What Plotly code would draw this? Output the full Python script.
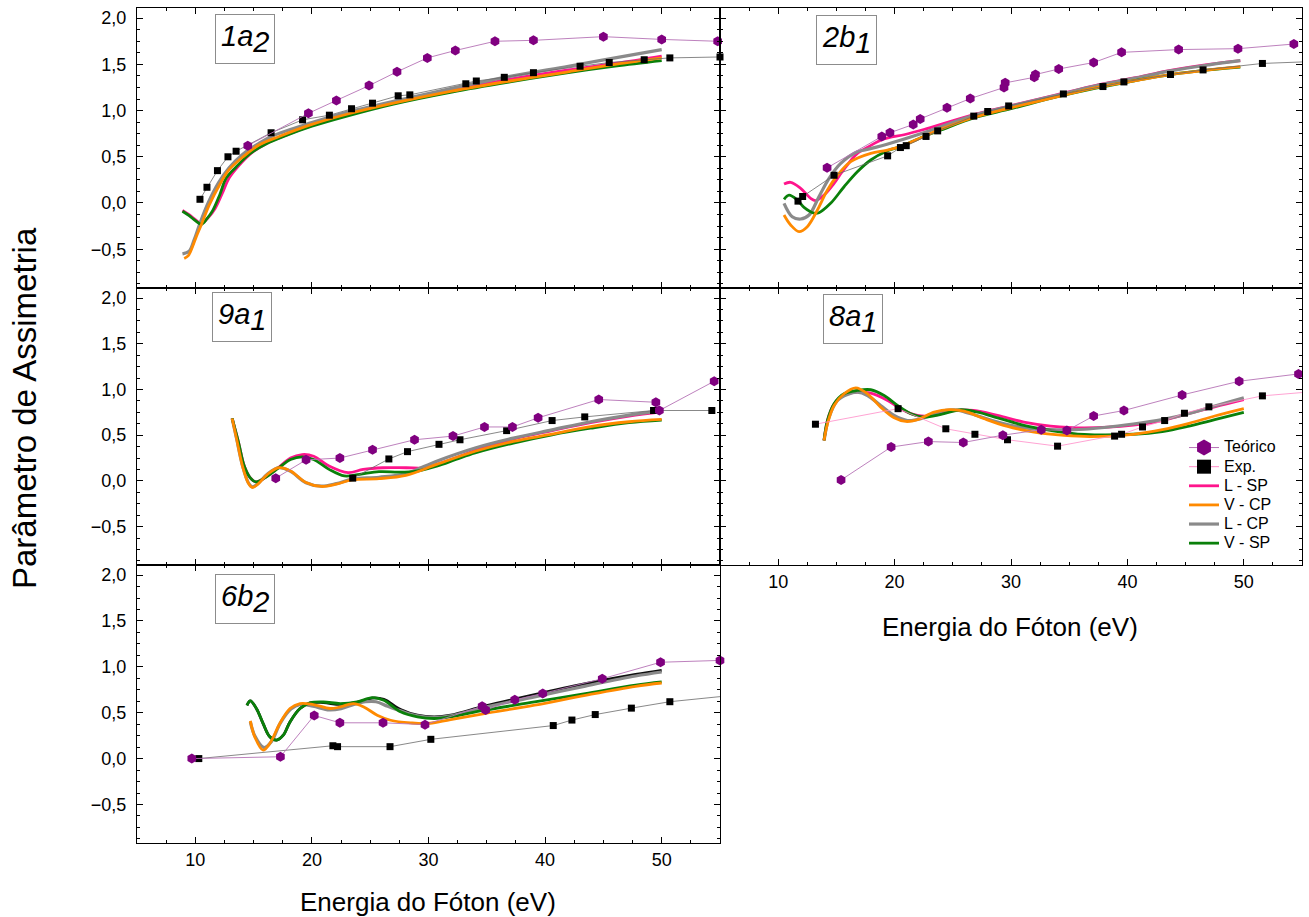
import plotly.graph_objects as go

# ---------------- data ----------------
# 1a2
teo_1a2_x = [14.5, 19.7, 22.1, 24.9, 27.3, 29.9, 32.3, 35.7, 39.0, 45.0, 50.0, 54.8]
teo_1a2_y = [0.62, 0.97, 1.11, 1.27, 1.42, 1.57, 1.65, 1.75, 1.76, 1.80, 1.77, 1.75]
exp_1a2_x = [10.4, 11.0, 11.9, 12.8, 13.5, 16.5, 19.2, 21.5, 23.4, 25.2, 27.4, 28.4,
             33.2, 34.1, 36.5, 39.0, 43.0, 45.5, 48.5, 50.7, 55.0]
exp_1a2_y = [0.04, 0.17, 0.35, 0.50, 0.56, 0.76, 0.90, 0.95, 1.02, 1.08, 1.16, 1.17,
             1.29, 1.32, 1.36, 1.41, 1.48, 1.52, 1.55, 1.57, 1.58]
lsp_1a2_x = [8.9, 9.5, 10.0, 10.5, 11.1, 11.7, 12.3, 12.9, 13.7, 14.8, 16.2, 17.9, 20, 23, 27, 32, 37, 42, 46, 50]
lsp_1a2_y = [-0.08, -0.13, -0.18, -0.22, -0.16, -0.06, 0.10, 0.27, 0.40, 0.54, 0.65, 0.74, 0.84, 0.95, 1.08, 1.22, 1.34, 1.44, 1.51, 1.59]
vcp_1a2_x = [9.05, 9.4, 9.77, 10.1, 10.5, 11.2, 12.1, 12.9, 14.1, 15.5, 17.2, 20, 23, 27, 32, 37, 42, 46, 50]
vcp_1a2_y = [-0.60, -0.57, -0.47, -0.36, -0.24, -0.02, 0.20, 0.36, 0.50, 0.63, 0.72, 0.85, 0.96, 1.08, 1.21, 1.32, 1.42, 1.50, 1.57]
lcp_1a2_x = [8.9, 9.48, 9.9, 10.4, 11.1, 12.0, 12.9, 14.0, 15.4, 16.7, 20, 23, 27, 32, 37, 42, 46, 50]
lcp_1a2_y = [-0.55, -0.52, -0.40, -0.22, 0.00, 0.22, 0.38, 0.52, 0.64, 0.73, 0.87, 0.98, 1.10, 1.24, 1.37, 1.48, 1.57, 1.66]
vsp_1a2_x = [8.9, 9.5, 10.0, 10.5, 11.0, 11.5, 12.1, 12.65, 13.5, 14.66, 16.1, 17.8, 20, 23, 27, 32, 37, 42, 46, 50]
vsp_1a2_y = [-0.09, -0.14, -0.19, -0.23, -0.17, -0.08, 0.09, 0.27, 0.39, 0.53, 0.64, 0.73, 0.83, 0.94, 1.07, 1.20, 1.31, 1.41, 1.48, 1.54]

# 2b1
teo_2b1_x = [14.2, 18.9, 19.6, 21.6, 22.2, 24.5, 26.5, 29.4, 29.5, 32.0, 32.1, 34.1, 37.1, 39.5, 44.4, 49.5, 54.3]
teo_2b1_y = [0.38, 0.72, 0.76, 0.85, 0.91, 1.03, 1.13, 1.25, 1.30, 1.36, 1.39, 1.45, 1.52, 1.63, 1.66, 1.67, 1.72]
exp_2b1_x = [11.7, 12.1, 14.8, 19.4, 20.5, 21.0, 22.7, 23.7, 26.8, 28.0, 29.8, 34.5, 37.9, 39.7, 43.7, 46.5, 51.6, 60.0]
exp_2b1_y = [0.02, 0.07, 0.30, 0.51, 0.60, 0.62, 0.72, 0.78, 0.94, 0.99, 1.05, 1.18, 1.26, 1.31, 1.39, 1.44, 1.51, 1.55]
lsp_2b1_x = [10.5, 11.07, 11.93, 12.79, 13.2, 13.94, 14.8, 15.5, 16.8, 17.65, 18.96, 20.9, 22.5, 26.8, 30.0, 33.9, 37.2, 40.45, 43.7, 47.0, 49.7]
lsp_2b1_y = [0.205, 0.224, 0.159, 0.05, 0.025, 0.086, 0.213, 0.338, 0.537, 0.60, 0.687, 0.741, 0.795, 0.957, 1.054, 1.17, 1.27, 1.35, 1.435, 1.50, 1.54]
vcp_2b1_x = [10.5, 11.07, 11.79, 12.5, 13.37, 14.23, 15.09, 16.23, 17.95, 19.3, 20.5, 22.5, 24.0, 26.8, 30.0, 34.0, 37.2, 40.5, 43.7, 47.0, 49.7]
vcp_2b1_y = [-0.13, -0.238, -0.31, -0.256, -0.076, 0.14, 0.30, 0.447, 0.537, 0.57, 0.61, 0.72, 0.80, 0.925, 1.03, 1.15, 1.245, 1.32, 1.39, 1.44, 1.475]
lcp_2b1_x = [10.5, 11.2, 11.93, 12.65, 13.5, 14.37, 15.37, 16.8, 17.33, 19.28, 22.5, 26.8, 30.0, 33.9, 37.2, 40.45, 43.7, 47.0, 49.7]
lcp_2b1_y = [-0.004, -0.148, -0.173, -0.13, 0.068, 0.267, 0.429, 0.555, 0.57, 0.633, 0.759, 0.95, 1.05, 1.165, 1.265, 1.345, 1.43, 1.495, 1.54]
vsp_2b1_x = [10.5, 10.93, 11.65, 12.22, 13.08, 13.5, 14.5, 15.66, 16.8, 17.95, 19.3, 20.5, 22.5, 24.0, 26.8, 30.0, 34.0, 37.2, 40.5, 43.7, 47.0, 49.7]
vsp_2b1_y = [0.04, 0.086, 0.032, -0.047, -0.11, -0.105, -0.004, 0.176, 0.338, 0.465, 0.56, 0.61, 0.72, 0.79, 0.92, 1.02, 1.15, 1.24, 1.32, 1.39, 1.44, 1.47]

# 9a1
teo_9a1_x = [16.9, 19.5, 22.4, 25.2, 28.8, 32.1, 34.8, 37.2, 39.4, 44.6, 49.5, 49.8, 54.5]
teo_9a1_y = [0.03, 0.23, 0.25, 0.34, 0.45, 0.49, 0.59, 0.59, 0.69, 0.89, 0.86, 0.77, 1.09]
exp_9a1_x = [23.5, 26.6, 28.2, 30.9, 32.7, 36.7, 40.6, 43.4, 49.3, 54.3]
exp_9a1_y = [0.03, 0.24, 0.32, 0.40, 0.45, 0.55, 0.66, 0.70, 0.77, 0.77]
lsp_9a1_x = [13.16, 13.72, 14.2, 14.7, 15.2, 16.0, 17.18, 18.17, 19.16, 20.15, 21.47, 23.1, 24.4, 26.1, 28.1, 29.7, 30.7, 32.34, 34.0, 37.28, 40.6, 43.9, 47.2, 50.0]
lsp_9a1_y = [0.683, 0.414, 0.162, 0.036, -0.011, 0.036, 0.15, 0.25, 0.288, 0.27, 0.162, 0.09, 0.126, 0.144, 0.144, 0.144, 0.18, 0.252, 0.335, 0.457, 0.55, 0.637, 0.709, 0.755]
vcp_9a1_x = [13.16, 13.56, 14.05, 14.55, 14.88, 15.37, 16.19, 17.18, 18.17, 19.49, 20.8, 22.1, 23.44, 25.75, 28.06, 30.7, 34.0, 37.28, 40.6, 43.9, 47.2, 50.0]
vcp_9a1_y = [0.683, 0.45, 0.162, -0.025, -0.072, -0.036, 0.072, 0.144, 0.108, -0.018, -0.061, -0.036, 0.011, 0.025, 0.061, 0.18, 0.324, 0.432, 0.511, 0.594, 0.647, 0.673]
lcp_9a1_x = [13.16, 13.56, 14.05, 14.55, 14.88, 15.37, 16.19, 17.18, 18.17, 19.49, 20.8, 22.1, 23.44, 25.75, 28.06, 30.7, 34.0, 37.28, 40.6, 43.9, 47.2, 50.0]
lcp_9a1_y = [0.683, 0.45, 0.165, -0.02, -0.065, -0.03, 0.075, 0.145, 0.105, -0.02, -0.058, -0.03, 0.02, 0.04, 0.08, 0.216, 0.36, 0.468, 0.558, 0.647, 0.72, 0.766]
vsp_9a1_x = [13.16, 13.72, 14.2, 14.7, 15.2, 16.0, 17.18, 18.17, 19.16, 20.15, 21.47, 22.78, 24.1, 25.75, 27.4, 28.7, 30.7, 32.34, 34.0, 37.28, 40.6, 43.9, 47.2, 50.0]
vsp_9a1_y = [0.683, 0.414, 0.162, 0.036, -0.011, 0.036, 0.144, 0.234, 0.263, 0.234, 0.126, 0.054, 0.072, 0.101, 0.097, 0.101, 0.162, 0.234, 0.306, 0.414, 0.504, 0.576, 0.637, 0.665]

# 8a1
teo_8a1_x = [15.4, 19.7, 22.9, 25.9, 29.3, 32.6, 34.8, 37.1, 39.7, 44.7, 49.6, 54.7]
teo_8a1_y = [0.01, 0.37, 0.43, 0.42, 0.50, 0.56, 0.55, 0.71, 0.77, 0.94, 1.09, 1.17]
exp_8a1_x = [13.2, 20.3, 24.4, 26.9, 29.7, 34.0, 38.9, 39.5, 41.3, 43.2, 44.9, 47.0, 51.6, 60.0]
exp_8a1_y = [0.62, 0.79, 0.57, 0.51, 0.45, 0.38, 0.49, 0.51, 0.59, 0.66, 0.74, 0.81, 0.93, 1.02]
lsp_8a1_x = [13.94, 14.23, 14.8, 15.66, 16.8, 17.95, 19.4, 20.5, 21.97, 23.4, 25.1, 26.8, 28.85, 31.1, 33.4, 36.3, 40.5, 43.0, 45.3, 47.5, 50.0]
lsp_8a1_y = [0.443, 0.66, 0.84, 0.94, 0.97, 0.96, 0.88, 0.79, 0.716, 0.716, 0.77, 0.77, 0.716, 0.643, 0.60, 0.58, 0.61, 0.66, 0.737, 0.81, 0.888]
vcp_8a1_x = [13.94, 14.23, 14.8, 15.66, 16.66, 17.67, 18.8, 19.96, 20.96, 21.97, 23.4, 24.7, 25.98, 27.7, 29.7, 32.0, 34.57, 36.9, 40.5, 43.0, 45.3, 47.5, 50.0]
vcp_8a1_y = [0.443, 0.625, 0.825, 0.953, 1.018, 0.953, 0.807, 0.69, 0.65, 0.669, 0.752, 0.78, 0.763, 0.68, 0.596, 0.533, 0.497, 0.485, 0.51, 0.56, 0.63, 0.71, 0.79]
lcp_8a1_x = [13.94, 14.37, 15.09, 15.95, 16.8, 17.67, 18.8, 19.96, 21.1, 22.25, 23.7, 25.1, 26.55, 28.85, 31.1, 33.4, 36.3, 40.5, 43.0, 45.3, 47.5, 50.0]
lcp_8a1_y = [0.443, 0.697, 0.88, 0.945, 0.97, 0.934, 0.825, 0.716, 0.661, 0.68, 0.752, 0.778, 0.734, 0.643, 0.581, 0.56, 0.565, 0.622, 0.67, 0.737, 0.82, 0.91]
vsp_8a1_x = [13.94, 14.23, 14.8, 15.66, 16.8, 17.95, 19.1, 20.25, 21.4, 22.54, 23.97, 25.7, 27.13, 28.85, 31.1, 33.4, 36.3, 40.5, 43.0, 45.3, 47.5, 50.0]
vsp_8a1_y = [0.443, 0.661, 0.844, 0.953, 0.989, 0.997, 0.934, 0.825, 0.734, 0.697, 0.727, 0.778, 0.752, 0.69, 0.607, 0.552, 0.508, 0.51, 0.54, 0.60, 0.67, 0.75]

# 6b2
teo_6b2_x = [9.7, 17.3, 20.2, 22.4, 26.1, 29.7, 34.6, 34.9, 37.4, 39.8, 44.9, 49.9, 55.0]
teo_6b2_y = [0.0, 0.02, 0.47, 0.39, 0.39, 0.37, 0.57, 0.53, 0.64, 0.71, 0.87, 1.05, 1.07]
exp_6b2_x = [10.3, 21.8, 22.2, 26.7, 30.2, 40.7, 42.3, 44.3, 47.4, 50.7, 60.0]
exp_6b2_y = [0.0, 0.14, 0.13, 0.13, 0.21, 0.36, 0.42, 0.48, 0.55, 0.62, 0.74]
lsp_6b2_x = [14.43, 14.72, 15.24, 15.81, 16.39, 16.97, 17.54, 18.12, 18.98, 19.84, 20.99, 22.44, 23.88, 25.17, 26.17, 27.6, 29.05, 30.5, 31.9, 34.8, 39.1, 43.45, 47.76, 50.0]
lsp_6b2_y = [0.58, 0.628, 0.546, 0.383, 0.237, 0.201, 0.255, 0.40, 0.546, 0.607, 0.61, 0.59, 0.612, 0.66, 0.645, 0.535, 0.473, 0.455, 0.473, 0.571, 0.698, 0.817, 0.918, 0.962]
vcp_6b2_x = [14.72, 15.1, 15.81, 16.39, 17.25, 18.12, 18.98, 20.13, 21.57, 22.44, 23.58, 24.45, 25.6, 26.75, 28.48, 29.92, 31.9, 34.8, 39.1, 43.45, 47.76, 50.0]
vcp_6b2_y = [0.411, 0.237, 0.092, 0.165, 0.383, 0.546, 0.60, 0.589, 0.546, 0.563, 0.60, 0.563, 0.473, 0.418, 0.389, 0.383, 0.426, 0.491, 0.582, 0.69, 0.788, 0.824]
lcp_6b2_x = [14.72, 15.1, 15.9, 16.5, 17.3, 18.2, 19.0, 20.1, 21.5, 22.5, 23.6, 24.6, 25.5, 26.5, 27.6, 29.05, 30.5, 31.9, 34.8, 39.1, 43.45, 47.76, 50.0]
lcp_6b2_y = [0.40, 0.25, 0.12, 0.18, 0.39, 0.54, 0.59, 0.57, 0.53, 0.545, 0.59, 0.62, 0.62, 0.57, 0.52, 0.465, 0.448, 0.465, 0.56, 0.673, 0.79, 0.90, 0.944]
vsp_6b2_x = [14.43, 14.72, 15.24, 15.81, 16.39, 16.97, 17.54, 18.12, 18.98, 19.84, 20.99, 22.44, 23.88, 25.17, 26.17, 27.6, 29.05, 30.5, 31.9, 34.8, 39.1, 43.45, 47.76, 50.0]
vsp_6b2_y = [0.58, 0.628, 0.546, 0.383, 0.237, 0.201, 0.255, 0.40, 0.546, 0.607, 0.617, 0.60, 0.617, 0.665, 0.636, 0.51, 0.455, 0.437, 0.455, 0.527, 0.617, 0.709, 0.80, 0.835]

x_ticks = [10, 20, 30, 40, 50]
y_ticks = [-0.5, 0.0, 0.5, 1.0, 1.5, 2.0]
series_names = ["Teórico", "Exp.", "L - SP", "V - CP", "L - CP", "V - SP"]

# ---------------- style ----------------
W, H = 1309, 917
FONT = "Arial, 'Liberation Sans', sans-serif"
PURPLE = "#800080"
TEO_LINE = "#b673b6"
PINK = "#ff148c"
ORANGE = "#ff8a00"
GRAY = "#8a8a8a"
GREEN = "#0a800a"

X_RANGE = [5, 55]
Y_RANGE = [-0.92, 2.11]


def px_x(p):
    return p / W


def px_y(p):
    return 1 - p / H


def legend_label(name):
    # legend rows are sized from legend.font; the label itself is drawn larger
    return f"<span style='font-size:16px'>{name}</span>"


col_dom = {"L": [px_x(137), px_x(720)], "R": [px_x(720), px_x(1302)]}
row_dom = {1: [px_y(288), px_y(8)], 2: [px_y(565), px_y(288)], 3: [px_y(843), px_y(565)]}

panels = [
    dict(label="1a", sub="2", col="L", row=1, xlab=False, ylab=True,
         teo=(teo_1a2_x, teo_1a2_y), exp=(exp_1a2_x, exp_1a2_y),
         lsp=(lsp_1a2_x, lsp_1a2_y), vcp=(vcp_1a2_x, vcp_1a2_y),
         lcp=(lcp_1a2_x, lcp_1a2_y), vsp=(vsp_1a2_x, vsp_1a2_y),
         exp_line="#6a6a6a", lsp_color=PINK, box=(245, 39)),
    dict(label="2b", sub="1", col="R", row=1, xlab=False, ylab=False,
         teo=(teo_2b1_x, teo_2b1_y), exp=(exp_2b1_x, exp_2b1_y),
         lsp=(lsp_2b1_x, lsp_2b1_y), vcp=(vcp_2b1_x, vcp_2b1_y),
         lcp=(lcp_2b1_x, lcp_2b1_y), vsp=(vsp_2b1_x, vsp_2b1_y),
         exp_line="#6a6a6a", lsp_color=PINK, box=(846, 40)),
    dict(label="9a", sub="1", col="L", row=2, xlab=False, ylab=True,
         teo=(teo_9a1_x, teo_9a1_y), exp=(exp_9a1_x, exp_9a1_y),
         lsp=(lsp_9a1_x, lsp_9a1_y), vcp=(vcp_9a1_x, vcp_9a1_y),
         lcp=(lcp_9a1_x, lcp_9a1_y), vsp=(vsp_9a1_x, vsp_9a1_y),
         exp_line="#6a6a6a", lsp_color=PINK, box=(242, 317)),
    dict(label="8a", sub="1", col="R", row=2, xlab=True, ylab=False, legend=True,
         teo=(teo_8a1_x, teo_8a1_y), exp=(exp_8a1_x, exp_8a1_y),
         lsp=(lsp_8a1_x, lsp_8a1_y), vcp=(vcp_8a1_x, vcp_8a1_y),
         lcp=(lcp_8a1_x, lcp_8a1_y), vsp=(vsp_8a1_x, vsp_8a1_y),
         exp_line="#ff8cc8", lsp_color=PINK, box=(853, 319)),
    dict(label="6b", sub="2", col="L", row=3, xlab=True, ylab=True,
         teo=(teo_6b2_x, teo_6b2_y), exp=(exp_6b2_x, exp_6b2_y),
         lsp=(lsp_6b2_x, lsp_6b2_y), vcp=(vcp_6b2_x, vcp_6b2_y),
         lcp=(lcp_6b2_x, lcp_6b2_y), vsp=(vsp_6b2_x, vsp_6b2_y),
         exp_line="#6a6a6a", lsp_color="#101010", box=(245, 599)),
]

fig = go.Figure()
layout = dict(
    width=W, height=H,
    margin=dict(l=0, r=0, t=0, b=0),
    paper_bgcolor="white", plot_bgcolor="white",
    separators=",.",
    font=dict(family=FONT, color="black"),
    showlegend=True,
    legend=dict(x=px_x(1184), y=px_y(433), xanchor="left", yanchor="top",
                bgcolor="rgba(0,0,0,0)", font=dict(size=12.4, family=FONT),
                itemsizing="trace", tracegroupgap=0),
)

annotations = []

for i, p in enumerate(panels, start=1):
    xa = "x" if i == 1 else f"x{i}"
    ya = "y" if i == 1 else f"y{i}"
    xkey = "xaxis" if i == 1 else f"xaxis{i}"
    ykey = "yaxis" if i == 1 else f"yaxis{i}"

    layout[xkey] = dict(
        domain=col_dom[p["col"]], anchor=ya, range=X_RANGE,
        tickmode="array", tickvals=x_ticks, showticklabels=p["xlab"],
        ticks="inside", ticklen=6, tickwidth=1, tickcolor="black",
        showline=True, linecolor="black", linewidth=1.4, mirror="ticks",
        showgrid=False, zeroline=False,
        tickfont=dict(size=18, family=FONT),
        minor=dict(tickmode="linear", tick0=0, dtick=2.5, ticks="inside",
                   ticklen=3, tickcolor="black", showgrid=False),
    )
    layout[ykey] = dict(
        domain=row_dom[p["row"]], anchor=xa, range=Y_RANGE,
        tickmode="array", tickvals=y_ticks, tickformat=".1f",
        showticklabels=p["ylab"], ticklabelstandoff=6,
        ticks="inside", ticklen=6, tickwidth=1, tickcolor="black",
        showline=True, linecolor="black", linewidth=1.4, mirror="ticks",
        showgrid=False, zeroline=False,
        tickfont=dict(size=18, family=FONT),
        minor=dict(tickmode="linear", tick0=0, dtick=0.125, ticks="inside",
                   ticklen=3, tickcolor="black", showgrid=False),
    )

    leg = bool(p.get("legend"))
    curve_specs = [
        ("lsp", series_names[2], p["lsp_color"], 2.8, 3),
        ("lcp", series_names[4], GRAY, 3.2, 5),
        ("vsp", series_names[5], GREEN, 2.8, 6),
        ("vcp", series_names[3], ORANGE, 2.8, 4),
    ]
    for key, name, color, width, rank in curve_specs:
        cx, cy = p[key]
        fig.add_trace(go.Scatter(
            x=cx, y=cy, mode="lines", name=legend_label(name),
            line=dict(color=color, width=width, shape="spline", smoothing=1.0),
            xaxis=xa, yaxis=ya, showlegend=leg, legendrank=rank,
            hoverinfo="skip",
        ))

    # experimental points and their connecting line
    ex, ey = p["exp"]
    fig.add_trace(go.Scatter(
        x=ex, y=ey, mode="lines", line=dict(color=p["exp_line"], width=0.8),
        xaxis=xa, yaxis=ya, showlegend=False, hoverinfo="skip",
    ))
    in_x = [v for v in ex if v <= X_RANGE[1] + 0.5]
    in_y = [ey[k] for k, v in enumerate(ex) if v <= X_RANGE[1] + 0.5]
    fig.add_trace(go.Scatter(
        x=in_x, y=in_y, mode="markers",
        marker=dict(symbol="square", size=7, color="black"),
        xaxis=xa, yaxis=ya, showlegend=False, cliponaxis=False, hoverinfo="skip",
    ))

    # theoretical points
    tx, ty = p["teo"]
    fig.add_trace(go.Scatter(
        x=tx, y=ty, mode="lines+markers",
        line=dict(color=TEO_LINE, width=0.9),
        marker=dict(symbol="hexagon", size=10, color=PURPLE),
        xaxis=xa, yaxis=ya, showlegend=False, cliponaxis=False, hoverinfo="skip",
    ))

    if leg:
        fig.add_trace(go.Scatter(
            x=[None], y=[None], mode="lines+markers", name=legend_label(series_names[0]),
            line=dict(color=TEO_LINE, width=1),
            marker=dict(symbol="hexagon", size=16, color=PURPLE),
            xaxis=xa, yaxis=ya, legendrank=1,
        ))
        fig.add_trace(go.Scatter(
            x=[None], y=[None], mode="lines+markers", name=legend_label(series_names[1]),
            line=dict(color=p["exp_line"], width=1),
            marker=dict(symbol="square", size=14, color="black"),
            xaxis=xa, yaxis=ya, legendrank=2,
        ))

    # orbital label in a box
    bx, by = p["box"]
    annotations.append(dict(
        x=px_x(bx), y=px_y(by), xref="paper", yref="paper",
        xanchor="center", yanchor="middle", showarrow=False,
        text=f"<i>{p['label']}<sub><span style='font-size:29px'>{p['sub']}</span></sub></i>",
        font=dict(size=29, family=FONT, color="black"),
        bordercolor="#8c8c8c", borderwidth=1, borderpad=5, bgcolor="white",
    ))

annotations += [
    dict(x=px_x(24), y=px_y(408), xref="paper", yref="paper", showarrow=False,
         text="Parâmetro de Assimetria", textangle=-90,
         font=dict(size=33, family=FONT), xanchor="center", yanchor="middle"),
    dict(x=px_x(428), y=px_y(902), xref="paper", yref="paper", showarrow=False,
         text="Energia do Fóton (eV)", font=dict(size=26, family=FONT),
         xanchor="center", yanchor="middle"),
    dict(x=px_x(1010), y=px_y(627), xref="paper", yref="paper", showarrow=False,
         text="Energia do Fóton (eV)", font=dict(size=26, family=FONT),
         xanchor="center", yanchor="middle"),
]
layout["annotations"] = annotations

fig.update_layout(**layout)
fig.write_html("out.html")
